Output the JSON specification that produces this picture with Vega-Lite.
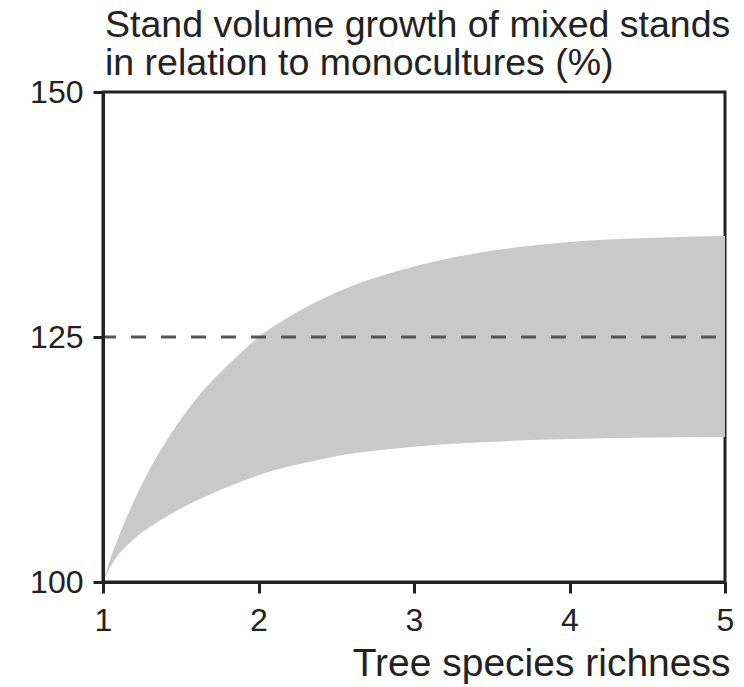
{
  "$schema": "https://vega.github.io/schema/vega-lite/v6.json",
  "width": 622,
  "height": 490,
  "autosize": {"type": "none"},
  "padding": {"left": 103, "top": 92, "right": 19, "bottom": 105},
  "background": "white",
  "title": {
    "text": ["Stand volume growth of mixed stands", "in relation to monocultures (%)"],
    "anchor": "start",
    "frame": "group",
    "font": "Liberation Sans",
    "fontSize": 37.5,
    "fontWeight": "normal",
    "color": "#222222",
    "lineHeight": 38,
    "offset": 14,
    "dx": 2,
    "dy": 20
  },
  "datasets": {
    "band": [
      {"richness": 1.0, "lo": 100.0, "hi": 100.0},
      {"richness": 1.05, "lo": 101.6, "hi": 102.5},
      {"richness": 1.1, "lo": 102.8, "hi": 104.6},
      {"richness": 1.2, "lo": 104.4, "hi": 108.3},
      {"richness": 1.3, "lo": 105.6, "hi": 111.5},
      {"richness": 1.4, "lo": 106.6, "hi": 114.2},
      {"richness": 1.5, "lo": 107.5, "hi": 116.6},
      {"richness": 1.6, "lo": 108.3, "hi": 118.7},
      {"richness": 1.7, "lo": 109.0, "hi": 120.5},
      {"richness": 1.8, "lo": 109.7, "hi": 122.1},
      {"richness": 1.9, "lo": 110.3, "hi": 123.6},
      {"richness": 2.0, "lo": 110.9, "hi": 125.0},
      {"richness": 2.2, "lo": 111.8, "hi": 127.1},
      {"richness": 2.4, "lo": 112.5, "hi": 128.8},
      {"richness": 2.6, "lo": 113.1, "hi": 130.2},
      {"richness": 2.8, "lo": 113.5, "hi": 131.3},
      {"richness": 3.0, "lo": 113.8, "hi": 132.2},
      {"richness": 3.25, "lo": 114.1, "hi": 133.1},
      {"richness": 3.5, "lo": 114.3, "hi": 133.8},
      {"richness": 3.75, "lo": 114.5, "hi": 134.3},
      {"richness": 4.0, "lo": 114.6, "hi": 134.7},
      {"richness": 4.5, "lo": 114.75, "hi": 135.1},
      {"richness": 5.0, "lo": 114.8, "hi": 135.3}
    ],
    "ref": [{"level": 125}]
  },
  "layer": [
    {
      "data": {"name": "band"},
      "mark": {"type": "area", "color": "#c9c9c9", "opacity": 1, "interpolate": "monotone"},
      "encoding": {
        "x": {
          "field": "richness",
          "type": "quantitative",
          "scale": {"domain": [1, 5], "nice": false, "zero": false},
          "axis": {
            "values": [1, 2, 3, 4, 5],
            "format": "d",
            "title": "Tree species richness",
            "titleAnchor": "end",
            "titleAlign": "right",
            "titleFont": "Liberation Sans",
            "titleFontSize": 39,
            "titleFontWeight": "normal",
            "titleColor": "#222222",
            "titlePadding": 8,
            "titleX": 627,
            "labelFont": "Liberation Sans",
            "labelFontSize": 32,
            "labelColor": "#222222",
            "labelPadding": 12,
            "labelFlush": false,
            "labelOverlap": false,
            "grid": false,
            "domainColor": "#222222",
            "domainWidth": 3,
            "tickColor": "#222222",
            "tickWidth": 3,
            "tickSize": 11,
            "zindex": 1
          }
        },
        "y": {
          "field": "lo",
          "type": "quantitative",
          "scale": {"domain": [100, 150], "nice": false, "zero": false},
          "axis": {
            "values": [100, 125, 150],
            "title": null,
            "labelFont": "Liberation Sans",
            "labelFontSize": 32,
            "labelColor": "#222222",
            "labelPadding": 10,
            "labelFlush": false,
            "labelOverlap": false,
            "grid": false,
            "domainColor": "#222222",
            "domainWidth": 3,
            "tickColor": "#222222",
            "tickWidth": 3,
            "tickSize": 10,
            "zindex": 1
          }
        },
        "y2": {"field": "hi"}
      }
    },
    {
      "data": {"name": "ref"},
      "mark": {"type": "rule", "color": "#555555", "strokeWidth": 3, "strokeDash": [15, 15], "strokeDashOffset": 21},
      "encoding": {
        "y": {"field": "level", "type": "quantitative"}
      }
    }
  ],
  "config": {
    "view": {"stroke": "#222222", "strokeWidth": 3},
    "font": "Liberation Sans"
  }
}
